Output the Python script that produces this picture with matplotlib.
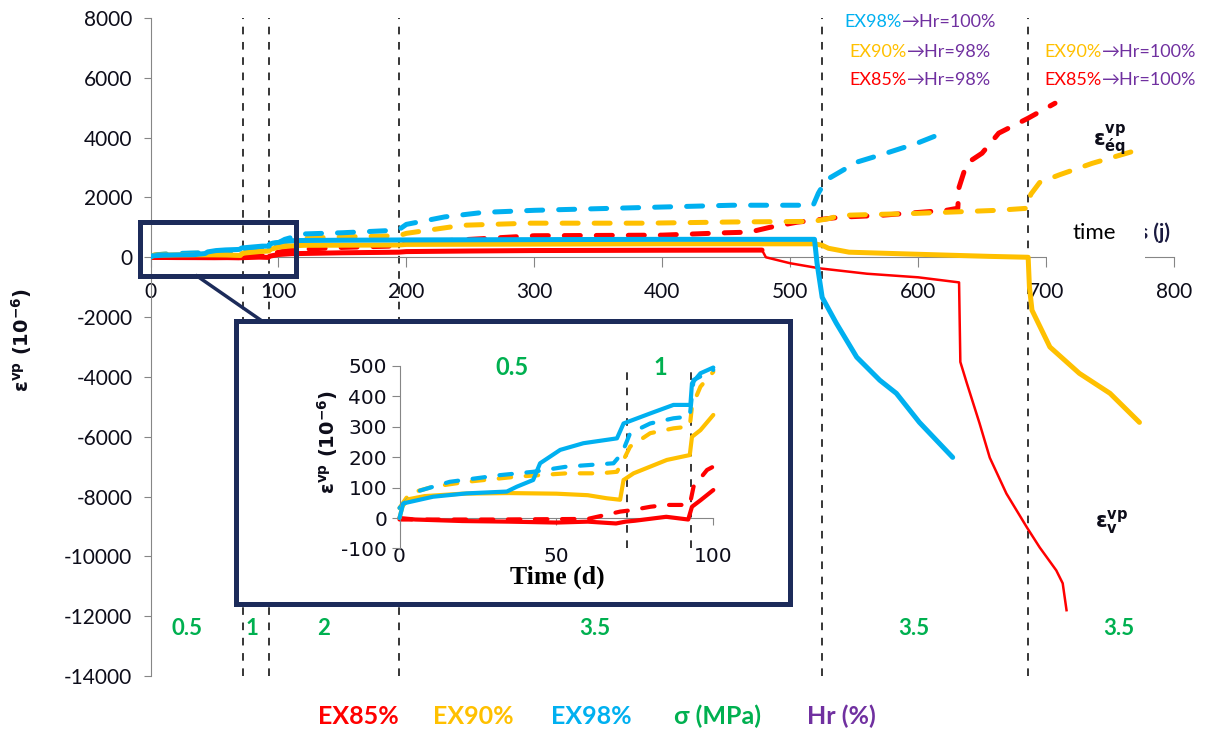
import matplotlib
matplotlib.use("Agg")
import matplotlib.pyplot as plt
from matplotlib.patches import Rectangle
from matplotlib.lines import Line2D

plt.rcParams['font.family'] = ['Lato', 'DejaVu Sans']
plt.rcParams['axes.unicode_minus'] = False

# ---------------- data ----------------
# EX85% : solid = volumetric strain, dashed = equivalent strain (10^-6), time in days
ex85_v_t = [0, 5, 20, 35, 50, 60, 69, 72, 75, 85, 92, 93.2, 96, 100, 110, 150, 194, 200, 250, 300, 400, 478,
            481, 500, 523, 560, 600, 632, 633, 638, 648, 656, 669, 685, 695, 708, 713, 716]
ex85_v = [0, -5, -10, -12, -15, -12, -18, -12, -9, 4, -5, 37, 59, 92, 120, 150, 170, 190, 210, 225, 235, 240,
          0, -200, -370, -550, -670, -840, -3500, -4200, -5550, -6700, -7900, -9030, -9700, -10470, -10900, -11800]
ex85_eq_t = [0, 30, 60, 70.3, 73.5, 80, 85, 92.5, 93.7, 98, 100, 110, 150, 194, 200, 250, 300, 400, 450, 468,
             484, 505, 539, 570, 622, 631, 632, 638, 650, 663, 686, 707]
ex85_eq = [-5, -5, -3, 21, 25, 37, 43, 43, 103, 158, 169, 250, 330, 380, 480, 600, 720, 740, 820, 840,
           1000, 1170, 1340, 1400, 1570, 1640, 2340, 3140, 3480, 4150, 4650, 5150]

# EX90%
ex90_v_t = [0, 1, 3, 8, 20, 35, 50, 60, 66, 70.3, 71.4, 74.6, 85.2, 92.5, 93.2, 95.9, 100, 110, 120, 194, 200,
            300, 400, 519, 525, 530, 546, 600, 656, 686, 687, 689, 703, 726, 750, 773]
ex90_v = [0, 40, 62, 72, 80, 82, 80, 75, 65, 60, 125, 147, 191, 207, 267, 289, 339, 380, 400, 410, 430,
          440, 450, 450, 400, 300, 170, 100, 30, 0, -1000, -1770, -3000, -3880, -4550, -5520]
ex90_eq_t = [0, 3.2, 10.7, 21.4, 37.4, 53.3, 64, 69.3, 71.4, 73.5, 79.9, 87.3, 92.5, 93.2, 95.9, 100, 110, 120,
             150, 194, 200, 244, 297, 388, 455, 518, 531, 539, 600, 662, 686, 688, 695, 710, 736, 771]
ex90_eq = [33, 81, 103, 119, 136, 147, 147, 152, 191, 235, 279, 295, 301, 366, 432, 481, 560, 640,
           680, 720, 800, 1070, 1140, 1140, 1180, 1200, 1300, 1400, 1470, 1570, 1640, 2100, 2500, 2750, 3140, 3580]

# EX98%
ex98_v_t = [0, 1.2, 10.7, 21.4, 34.2, 37.4, 42.6, 44.8, 51.2, 58.6, 69.3, 71.4, 79.9, 87.3, 92.7, 93.2, 95.9,
            100, 105, 115, 150, 200, 300, 400, 519, 521, 525, 536, 552, 570, 583, 601, 627]
ex98_v = [0, 48, 70, 81, 87, 103, 125, 180, 224, 246, 262, 311, 344, 372, 372, 443, 476,
          495, 540, 560, 570, 580, 590, 600, 600, -200, -1340, -2200, -3340, -4110, -4550, -5520, -6690]
ex98_eq_t = [0, 5.5, 16, 32, 42.6, 53.3, 68.2, 70.9, 73.5, 79.9, 87.3, 92.5, 93.7, 100, 105, 120, 150, 190,
             194, 200, 230, 260, 300, 400, 455, 518, 522, 528, 552, 575, 599, 619]
ex98_eq = [33, 87, 119, 141, 152, 169, 180, 213, 279, 311, 328, 334, 454, 487, 600, 780, 820, 900,
           920, 1100, 1350, 1500, 1570, 1680, 1740, 1740, 2140, 2580, 3180, 3480, 3810, 4150]

phase_t = [72.5, 93, 194, 525, 686]          # loading / humidity changes (d)
sigma_labels = ['0.5', '1', '2', '3.5', '3.5', '3.5']
legend_names = ['EX85%', 'EX90%', 'EX98%', 'σ (MPa)', 'Hr (%)']

c85, c90, c98 = '#FF0000', '#FFC000', '#00B0F0'
green, purple, navy = '#00B050', '#7030A0', '#1C2B5A'
grey, dark = '#868686', '#0D0D1A'

W, H = 1205, 736
def fx(x): return x / W
def fy(y): return 1 - y / H

fig = plt.figure(figsize=(W / 100, H / 100), dpi=100)

# ---------------- main chart ----------------
ax = fig.add_axes([fx(150.5), fy(676), (1174 - 150.5) / W, (676 - 18) / H])
ax.set_xlim(0, 800)
ax.set_ylim(-14000, 8000)

dash_main = (0, (3.2, 3.2))
series = [(ex85_v_t, ex85_v, ex85_eq_t, ex85_eq, c85),
          (ex90_v_t, ex90_v, ex90_eq_t, ex90_eq, c90),
          (ex98_v_t, ex98_v, ex98_eq_t, ex98_eq, c98)]
for vt, v, et, e, c in series:
    ax.plot(et, e, color=c, lw=3.6, ls=dash_main, dash_capstyle='round', zorder=2)
for vt, v, et, e, c in series:
    if c == c85:
        k = vt.index(478) + 1
        ax.plot(vt[:k], v[:k], color=c, lw=3.6, solid_capstyle='round', zorder=3)
        ax.plot(vt[k - 1:], v[k - 1:], color=c, lw=1.8, zorder=3)
    else:
        ax.plot(vt, v, color=c, lw=3.6, solid_capstyle='round', zorder=3)

for t in phase_t:
    ax.axvline(t, color='black', lw=1.1, ls=(0, (5, 5)), zorder=1)

for lab, t in zip(sigma_labels, [28.5, 79, 135, 347, 597, 757]):
    ax.text(t, -12400, lab, color=green, fontsize=16, fontweight='bold', ha='center', va='center')

for s in ['top', 'right']:
    ax.spines[s].set_visible(False)
ax.spines['left'].set_color(grey)
ax.spines['bottom'].set_color(grey)
ax.spines['bottom'].set_position(('data', 0))
ax.spines['bottom'].set_zorder(1)
ax.set_xticks(range(0, 801, 100))
ax.set_yticks(range(-14000, 8001, 2000))
ax.tick_params(axis='y', direction='out', length=5, color=grey, labelsize=15, labelcolor=dark, pad=8)
ax.tick_params(axis='x', direction='out', length=7, color=grey, labelsize=15, labelcolor=dark, pad=11)

fig.text(fx(22), fy(340), 'ε$^{\\mathbf{vp}}$ (10$^{\\mathbf{-6}}$)', rotation=90, ha='center', va='center',
         fontsize=14, fontweight='bold', family='DejaVu Sans', color=dark)

# curve names
fig.text(fx(1093), fy(140), 'ε$_{\\mathbf{éq}}^{\\mathbf{vp}}$', fontsize=15, fontweight='bold',
         family='DejaVu Sans', color=dark, ha='left', va='center')
fig.text(fx(1095), fy(522), 'ε$_{\\mathbf{v}}^{\\mathbf{vp}}$', fontsize=15, fontweight='bold',
         family='DejaVu Sans', color=dark, ha='left', va='center')

# "time" box hiding part of the axis title
fig.text(fx(1139), fy(233), 's (j)', fontsize=15, fontweight='bold', color='#1A1A40',
         ha='left', va='center', zorder=2)
fig.add_artist(Rectangle((fx(1047), fy(262)), 98 / W, 50 / H, transform=fig.transFigure,
                         facecolor='white', edgecolor='none', zorder=3))
fig.text(fx(1094), fy(233), 'time', fontsize=16, color='black', ha='center', va='center', zorder=4)

# humidity change notes
notes = [('EX98%', c98, '→Hr=100%', 902, 22), ('EX90%', c90, '→Hr=98%', 907, 52),
         ('EX85%', c85, '→Hr=98%', 907, 80), ('EX90%', c90, '→Hr=100%', 1102, 52),
         ('EX85%', c85, '→Hr=100%', 1102, 80)]
for a, c, b, x, y in notes:
    fig.text(fx(x), fy(y), a, color=c, fontsize=13, ha='right', va='center')
    fig.text(fx(x), fy(y), b, color=purple, fontsize=13, ha='left', va='center')

# bottom legend
for name, c, x in zip(legend_names, [c85, c90, c98, green, purple], [358, 473, 591, 718, 841]):
    fig.text(fx(x), fy(716), name, color=c, fontsize=18, fontweight='bold', ha='center', va='center')

# ---------------- zoom box and inset ----------------
fig.add_artist(Rectangle((fx(140), fy(276)), 156 / W, 54 / H, transform=fig.transFigure,
                         facecolor='none', edgecolor=navy, lw=3.6, zorder=4))
fig.add_artist(Line2D([fx(197), fx(262)], [fy(276), fy(321)], transform=fig.transFigure,
                      color=navy, lw=2.5, zorder=4))
fig.add_artist(Rectangle((fx(236), fy(604)), (790 - 236) / W, (604 - 321) / H, transform=fig.transFigure,
                         facecolor='white', edgecolor=navy, lw=3.6, zorder=5))

axi = fig.add_axes([fx(399.5), fy(548.4), (713.3 - 399.5) / W, (548.4 - 366) / H])
axi.set_zorder(6)
axi.patch.set_alpha(0)
axi.set_xlim(0, 100)
axi.set_ylim(-100, 500)

def upto100(t, v):
    n = sum(1 for x in t if x <= 100)
    return t[:n], v[:n]

dash_in = (0, (3, 3.5))
for vt, v, et, e, c in series:
    a, b = upto100(et, e)
    axi.plot(a, b, color=c, lw=3, ls=dash_in, dash_capstyle='round', clip_on=False, zorder=2)
for vt, v, et, e, c in series:
    a, b = upto100(vt, v)
    axi.plot(a, b, color=c, lw=3, solid_capstyle='round', clip_on=False, zorder=3)
for t in phase_t:
    if t <= 100:
        axi.axvline(t, color='black', lw=1.1, ls=(0, (5, 5)), zorder=1)

axi.text(36, 495, sigma_labels[0], color=green, fontsize=17, fontweight='bold', ha='center', va='center')
axi.text(83, 495, sigma_labels[1], color=green, fontsize=17, fontweight='bold', ha='center', va='center')

for s in ['top', 'right']:
    axi.spines[s].set_visible(False)
axi.spines['left'].set_color(grey)
axi.spines['bottom'].set_color(grey)
axi.spines['bottom'].set_position(('data', 0))
axi.spines['bottom'].set_zorder(1)
axi.set_xticks([0, 50, 100])
axi.set_yticks(range(-100, 501, 100))
for lab in axi.get_xticklabels() + axi.get_yticklabels():
    lab.set_family('DejaVu Sans')
axi.tick_params(axis='y', direction='out', length=6, color=grey, labelsize=14.5, labelcolor=dark, pad=3)
axi.tick_params(axis='x', direction='out', length=5, color=grey, labelsize=14.5, labelcolor=dark, pad=16)

fig.text(fx(557), fy(577), 'Time (d)', family='Liberation Serif', fontweight='bold', fontsize=18.5,
         color='black', ha='center', va='center', zorder=7)
fig.text(fx(328), fy(442), 'ε$^{\\mathbf{vp}}$ (10$^{\\mathbf{-6}}$)', rotation=90, ha='center', va='center',
         fontsize=14, fontweight='bold', family='DejaVu Sans', color=dark, zorder=7)

fig.savefig('out.png', dpi=100)
